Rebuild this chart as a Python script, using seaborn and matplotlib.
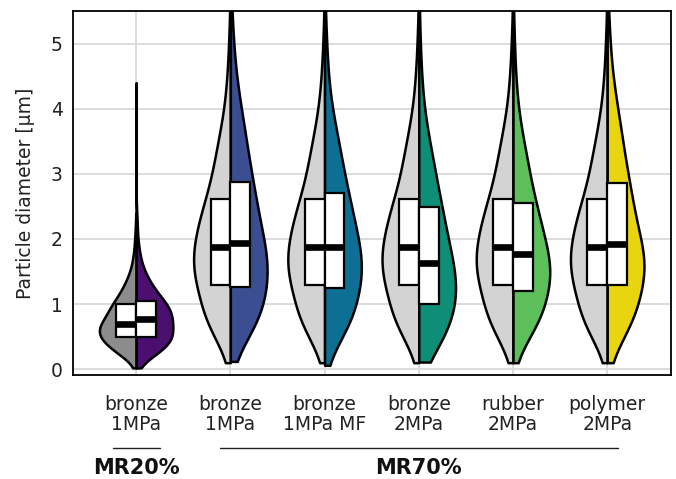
import numpy as np
import pandas as pd
import matplotlib
matplotlib.use("Agg")
import matplotlib.pyplot as plt
import seaborn as sns
from matplotlib.transforms import blended_transform_factory

sns.set_theme(style="white")
plt.rcParams["font.family"] = ["DejaVu Sans"]

# --- data -------------------------------------------------------------------
categories = [
    "MR20 bronze 1MPa",
    "MR70 bronze 1MPa",
    "MR70 bronze 1MPa MF",
    "MR70 bronze 2MPa",
    "MR70 rubber 2MPa",
    "MR70 polymer 2MPa",
]
tick_labels = ["bronze\n1MPa", "bronze\n1MPa", "bronze\n1MPa MF",
               "bronze\n2MPa", "rubber\n2MPa", "polymer\n2MPa"]
group_labels = ["MR20%", "MR70%"]

# cumulative fractions at which the particle diameters (µm) are tabulated
levels = [0.0, 0.005, 0.02, 0.05, 0.10, 0.175, 0.25, 0.375, 0.50,
          0.625, 0.75, 0.825, 0.90, 0.95, 0.98, 0.995, 1.0]

# reference distributions (left halves)
ref_mr20 = [0.02, 0.12, 0.20, 0.26, 0.32, 0.41, 0.49, 0.59, 0.70,
            0.84, 1.00, 1.12, 1.30, 1.50, 1.78, 2.10, 2.40]
ref_mr70 = [0.10, 0.36, 0.50, 0.62, 0.78, 1.02, 1.29, 1.58, 1.88,
            2.22, 2.62, 2.98, 3.42, 3.88, 4.50, 5.20, 6.30]

# measured distributions (right halves)
smp_mr20_bronze_1mpa = [0.02, 0.12, 0.20, 0.26, 0.32, 0.41, 0.49, 0.62, 0.77,
                        0.90, 1.05, 1.18, 1.36, 1.58, 1.90, 2.40, 4.40]
smp_bronze_1mpa = [0.12, 0.38, 0.52, 0.63, 0.78, 1.00, 1.26, 1.58, 1.93,
                   2.36, 2.88, 3.28, 3.78, 4.28, 4.90, 5.60, 6.80]
smp_bronze_1mpa_mf = [0.06, 0.32, 0.47, 0.60, 0.76, 0.99, 1.24, 1.55, 1.87,
                      2.25, 2.71, 3.07, 3.52, 3.98, 4.62, 5.35, 6.50]
smp_bronze_2mpa = [0.11, 0.15, 0.24, 0.40, 0.58, 0.79, 1.00, 1.31, 1.63,
                   2.02, 2.49, 2.85, 3.30, 3.78, 4.42, 5.20, 6.30]
smp_rubber_2mpa = [0.10, 0.35, 0.49, 0.61, 0.76, 0.97, 1.20, 1.48, 1.77,
                   2.12, 2.55, 2.90, 3.34, 3.80, 4.44, 5.20, 6.30]
smp_polymer_2mpa = [0.10, 0.37, 0.51, 0.63, 0.79, 1.03, 1.30, 1.60, 1.92,
                    2.35, 2.86, 3.25, 3.75, 4.22, 4.82, 5.50, 6.50]

ref_colors = ["#8c8c8c", "#d3d3d3", "#d3d3d3", "#d3d3d3", "#d3d3d3", "#d3d3d3"]
smp_colors = ["#4a0f6f", "#3b4e92", "#0d6f93", "#0e8d77", "#5cbf5a", "#e8d50f"]

ref_tables = [ref_mr20, ref_mr70, ref_mr70, ref_mr70, ref_mr70, ref_mr70]
smp_tables = [smp_mr20_bronze_1mpa, smp_bronze_1mpa, smp_bronze_1mpa_mf,
              smp_bronze_2mpa, smp_rubber_2mpa, smp_polymer_2mpa]

# expand each quantile table into an evenly spread set of diameters
n_per_half = 1000
grid = np.linspace(0.0, 1.0, n_per_half)
frames = []
for cat, rq, sq in zip(categories, ref_tables, smp_tables):
    frames.append(pd.DataFrame({"case": cat, "kind": "reference",
                                "d": np.interp(grid, levels, rq)}))
    frames.append(pd.DataFrame({"case": cat, "kind": "sample",
                                "d": np.interp(grid, levels, sq)}))
df = pd.concat(frames, ignore_index=True)
hue_order = ["reference", "sample"]

# --- figure -----------------------------------------------------------------
fig = plt.figure(figsize=(6.76, 4.79), dpi=100)
ax = fig.add_axes([0.108, 0.217, 0.885, 0.760])

for i, cat in enumerate(categories):
    sns.violinplot(
        data=df[df["case"] == cat], x="case", y="d", hue="kind",
        order=categories, hue_order=hue_order, split=True, inner=None,
        cut=0, density_norm="width", width=0.78, gap=0, bw_adjust=1.35,
        palette={"reference": ref_colors[i], "sample": smp_colors[i]},
        linecolor="black", linewidth=1.8, saturation=1, legend=False, ax=ax,
    )

sns.boxplot(
    data=df, x="case", y="d", hue="kind", order=categories,
    hue_order=hue_order, dodge=True, width=0.42, gap=0, whis=0,
    showfliers=False, showcaps=False,
    palette={"reference": "white", "sample": "white"},
    linecolor="black", linewidth=1.6, saturation=1, legend=False,
    medianprops=dict(color="black", linewidth=4.8), ax=ax,
)

ax.set_xlim(-0.67, 5.68)
ax.set_ylim(-0.09, 5.5)
ax.set_yticks([0, 1, 2, 3, 4, 5])
ax.set_xticks(range(len(categories)))
ax.set_xticklabels(tick_labels, linespacing=1.12)
ax.set_xlabel("")
ax.set_ylabel("Particle diameter [µm]", fontsize=13.5, color="#222222")
ax.yaxis.set_label_coords(-0.064, 0.5)

ax.set_axisbelow(True)
ax.grid(True, color="#d9d9d9", linewidth=1.3)
for sp in ax.spines.values():
    sp.set_color("black")
    sp.set_linewidth(1.3)
ax.tick_params(axis="both", direction="out", length=4, width=1.2,
               color="black", labelsize=13.5, labelcolor="#222222")
ax.tick_params(axis="x", pad=10)

# group brackets under the category labels
trans = blended_transform_factory(ax.transData, ax.transAxes)
group_extent = [(-0.25, 0.25), (0.89, 5.11)]
for label, (x0, x1) in zip(group_labels, group_extent):
    ax.plot([x0, x1], [-0.20, -0.20], transform=trans, clip_on=False,
            color="#222222", linewidth=1.0)
    ax.text((x0 + x1) / 2, -0.255, label, transform=trans, ha="center",
            va="center", fontsize=15, fontweight="bold", color="#111111")

fig.savefig("out.png", dpi=100)
